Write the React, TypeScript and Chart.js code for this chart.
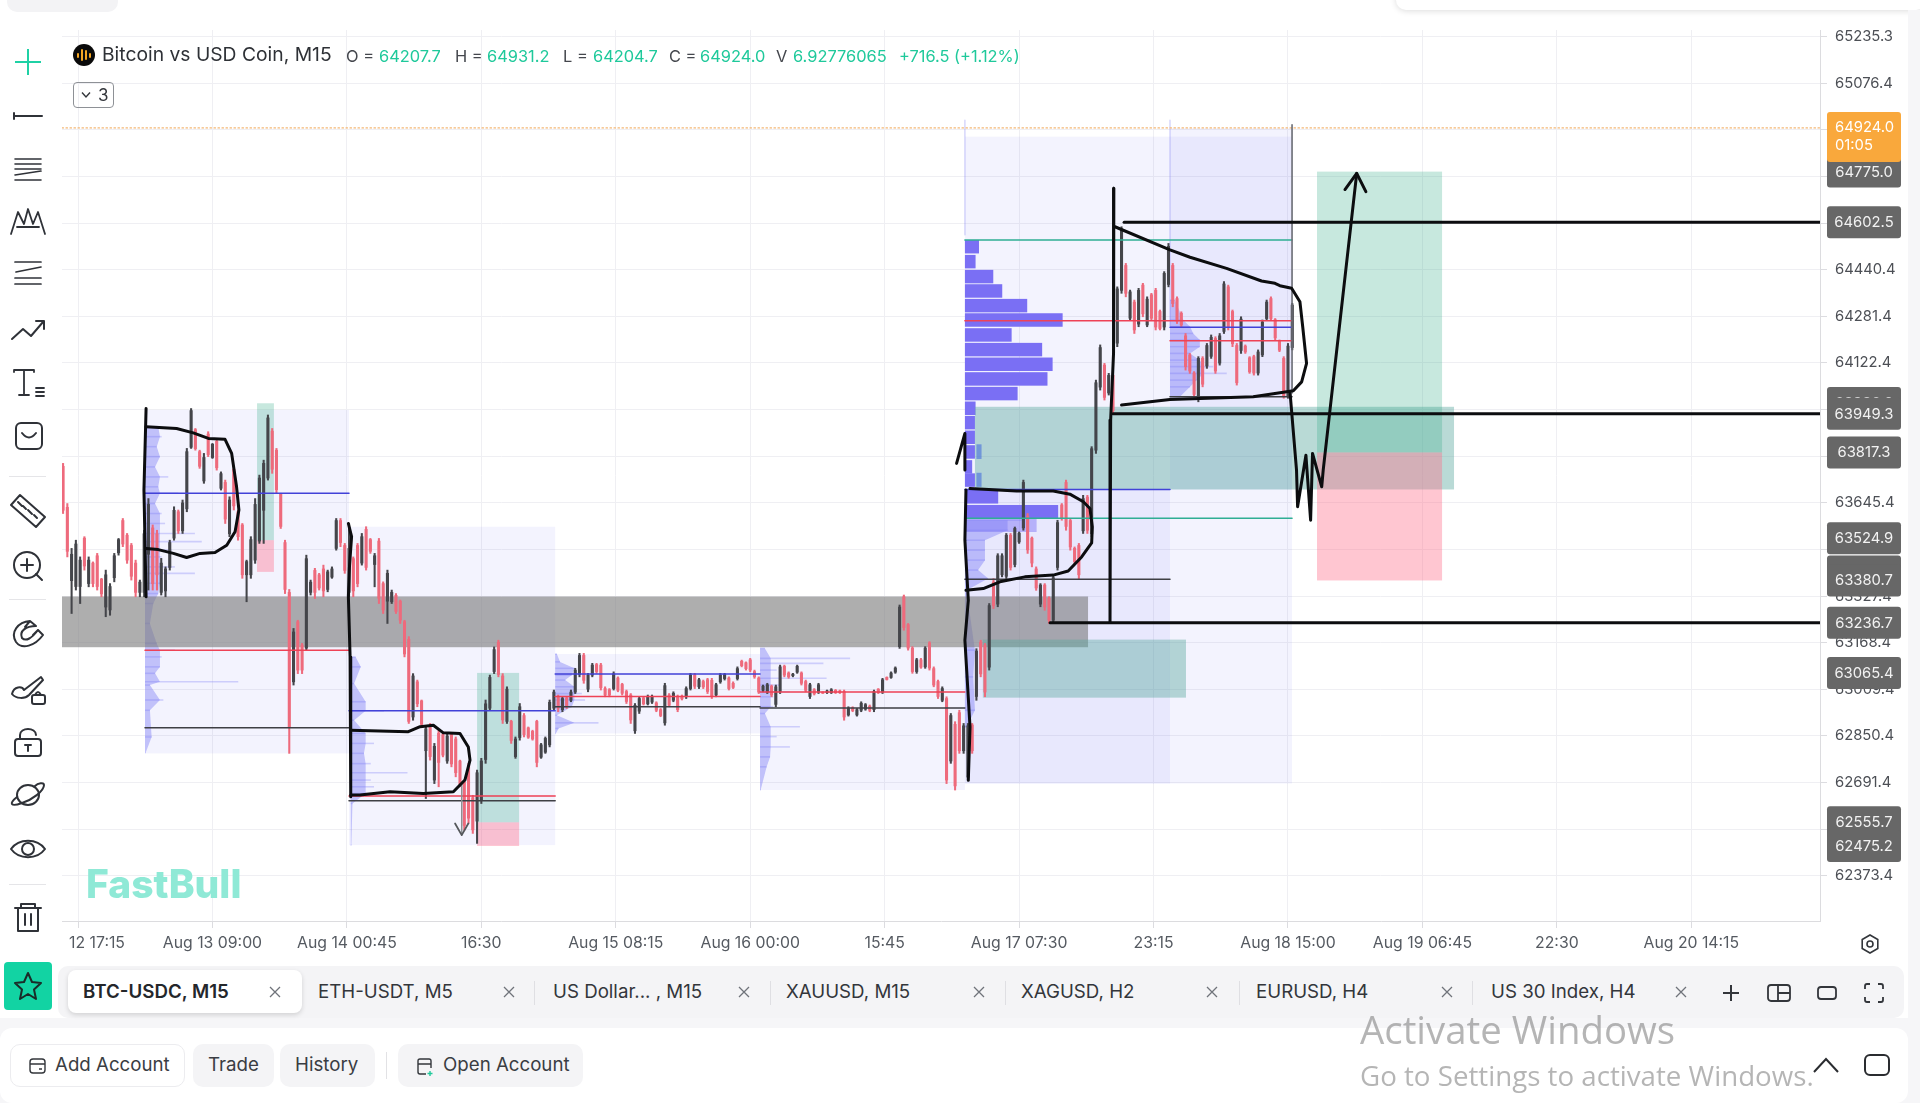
import React, { useEffect, useRef } from "react";
import { Chart, registerables } from "chart.js";
Chart.register(...registerables);

const xTickValues = [0, 63, 126, 189, 252, 315, 378, 441, 504, 567, 630, 693, 756];
const xTickLabels = ["", "Aug 13 09:00", "Aug 14 00:45", "16:30", "Aug 15 08:15", "Aug 16 00:00", "15:45", "Aug 17 07:30", "23:15", "Aug 18 15:00", "Aug 19 06:45", "22:30", "Aug 20 14:15"];
const yTickValues = [65235.3, 65076.4, 64917.4, 64758.4, 64599.4, 64440.4, 64281.4, 64122.4, 63963.4, 63804.4, 63645.4, 63486.4, 63327.4, 63168.4, 63009.4, 62850.4, 62691.4, 62532.4, 62373.4];
const X_MIN = -7.5, X_MAX = 816.3, Y_MIN = 62219.3, Y_MAX = 65258;

const highs = [
63780,63643,63490,63518,63461,63530,63461,63444,63473,63388,
63416,63370,63473,63524,63592,63541,63507,63450,63382,63552,
63660,63570,63552,63456,63427,63518,63632,63621,63655,63831,
63967,63899,63825,63814,63888,63848,63859,63751,63723,63666,
63768,63621,63575,63450,63530,63660,63740,63791,63945,63899,
63831,63678,63518,63350,63217,63245,63166,63467,63382,63422,
63405,63433,63416,63427,63592,63592,63507,63575,63461,63507,
63541,63564,63524,63473,63524,63376,63416,63348,63336,63314,
63245,63189,63063,63041,62973,62881,62893,62825,62870,62859,
62859,62859,62847,62768,62700,62757,62648,62734,62774,62973,
63058,63154,63177,63063,63018,62904,62847,62961,62927,62881,
62870,62904,62825,62847,62973,63007,
62990,62984,62984,63007,63081,63132,63132,63064,63098,63098,
63098,63018,63012,63069,63052,63030,63007,62995,62961,62984,
62984,62990,62990,62967,62944,63030,62995,63001,62990,62990,
63018,63064,63064,63047,63041,63047,63047,63030,63064,63064,
63052,63035,63086,63109,63103,63115,63075,63052,63024,63030,
63024,63024,63092,63092,63069,63064,63092,63069,63041,63030,
63012,63030,63001,63007,63012,63009,63007,63007,62950,62950,
62944,62967,62961,62956,63007,63012,63047,63052,63069,63086,
63297,63331,63234,63155,63115,63115,63155,63172,63086,63041,
63018,62984,62927,62899,62938,62893,62893,62893,
63148,63177,63166,63302,63387,63472,63472,63541,63541,63563,
63546,63723,63609,63529,63427,63370,63370,63325,63399,63586,
63643,63723,63592,63495,63507,63671,63671,63837,
64064,64184,64121,64087,64087,64382,64587,64462,64371,64337,
64377,64394,64348,64360,64377,64303,64434,64530,64462,64348,
64297,64223,64155,64093,64144,64144,64189,64218,64212,64223,
64400,64388,64303,64189,64280,64184,64144,64149,64167,64269,
64337,64348,64274,64201,64144,64189,64326];
const lows = [
63609,63461,63268,63348,63302,63416,63359,63359,63348,63325,
63257,63262,63376,63467,63496,63439,63382,63325,63325,63325,
63348,63348,63348,63331,63325,63416,63518,63541,63541,63615,
63831,63825,63763,63712,63803,63797,63757,63689,63575,63530,
63621,63518,63388,63308,63388,63439,63507,63507,63723,63746,
63678,63558,63336,62791,63024,63063,63063,63143,63331,63319,
63348,63325,63342,63388,63484,63496,63405,63325,63325,63359,
63433,63416,63473,63359,63302,63268,63234,63302,63268,63234,
63120,62893,62904,62950,62881,62637,62768,62688,62677,62779,
62757,62745,62711,62677,62529,62552,62518,62484,62620,62757,
62938,63063,63052,62893,62893,62825,62774,62836,62847,62842,
62836,62745,62774,62791,62813,62938,
62933,62933,62944,62967,62995,63052,63030,63001,63052,63064,
63007,62984,62984,63007,63001,62990,62961,62893,62859,62927,
62956,62956,62961,62933,62916,62887,62950,62967,62933,62973,
62978,63007,63012,63012,63012,62995,62978,62984,63030,63041,
63007,63012,63041,63086,63075,63069,63047,62995,63001,62995,
62984,62950,62995,63052,63047,63052,63064,63024,63001,62978,
62990,62995,62995,62995,62995,62995,62995,62904,62918,62933,
62918,62933,62938,62933,62933,62995,62995,63041,63047,63064,
63149,63211,63143,63064,63064,63081,63081,63075,63018,62978,
62967,62688,62757,62666,62791,62791,62700,62791,
62972,63052,62984,63075,63285,63291,63393,63387,63416,63427,
63507,63552,63473,63427,63347,63291,63279,63234,63234,63416,
63586,63552,63484,63438,63387,63541,63541,63530,
63814,64030,63996,64013,63950,64178,64360,64348,64269,64223,
64246,64280,64246,64269,64235,64235,64235,64382,64314,64257,
64246,64098,64087,64007,63990,64041,64104,64138,64087,64115,
64223,64235,64178,64047,64155,64155,64087,64081,64081,64144,
64269,64269,64201,64161,64002,64002,64167];
const opens = [
63770,63630,63380,63360,63360,63525,63370,63440,63465,63385,
63290,63280,63390,63475,63585,63535,63500,63440,63340,63340,
63470,63560,63540,63340,63345,63425,63525,63615,63550,63625,
63835,63895,63820,63720,63880,63800,63855,63695,63715,63540,
63760,63615,63570,63400,63400,63450,63515,63620,63730,63890,
63825,63675,63510,63340,63035,63240,63160,63150,63340,63415,
63400,63420,63350,63392,63490,63585,63500,63340,63455,63500,
63440,63555,63520,63435,63515,63370,63310,63308,63330,63310,
63240,63180,62915,63035,62970,62800,62885,62700,62860,62855,
62765,62855,62840,62765,62695,62750,62640,62560,62630,62770,
62945,63070,63170,63055,62900,62900,62780,62845,62920,62878,
62866,62900,62778,62795,62820,62945,
62985,62940,62980,62972,63000,63060,63125,63010,63058,63094,
63092,63012,63008,63012,63048,63026,63002,62990,62868,62935,
62980,62960,62966,62963,62940,62895,62990,62972,62985,62986,
62984,63012,63058,63018,63036,63042,63040,62990,63035,63046,
63048,63030,63046,63105,63100,63110,63070,63048,63006,63000,
63020,62958,63002,63088,63065,63056,63068,63065,63036,62985,
63008,63000,63000,62998,62998,63006,63004,63002,62922,62946,
62922,62938,62942,62952,62940,63010,63000,63050,63050,63068,
63155,63325,63230,63150,63070,63110,63086,63168,63080,63036,
62972,62978,62765,62890,62930,62800,62710,62888,
62985,63170,63160,63085,63375,63300,63400,63395,63535,63435,
63512,63560,63600,63525,63420,63300,63365,63320,63245,63425,
63638,63715,63585,63490,63500,63550,63665,63540,
63825,64040,64115,64020,64080,64190,64370,64455,64275,64330,
64255,64388,64252,64355,64370,64298,64245,64390,64455,64342,
64292,64215,64150,64088,64000,64138,64112,64145,64206,64122,
64230,64382,64298,64182,64165,64180,64140,64144,64088,64150,
64274,64342,64270,64196,64138,64010,64175];
const closes = [
63620,63480,63470,63505,63450,63430,63450,63370,63360,63335,
63400,63360,63465,63520,63505,63450,63395,63340,63375,63540,
63640,63370,63400,63440,63420,63510,63620,63550,63645,63820,
63960,63830,63770,63800,63810,63845,63765,63745,63590,63655,
63635,63530,63400,63445,63520,63640,63730,63780,63935,63760,
63690,63565,63350,62880,63205,63075,63075,63455,63375,63340,
63355,63345,63410,63420,63585,63510,63415,63490,63345,63370,
63530,63425,63480,63465,63320,63280,63405,63340,63275,63245,
63130,62900,63055,62960,62890,62875,62780,62815,62760,62785,
62850,62755,62725,62685,62545,62570,62530,62725,62765,62960,
63050,63145,63060,62905,63010,62835,62840,62950,62855,62846,
62840,62760,62820,62842,62965,63000,
62945,62978,62950,63000,63075,63125,63040,63058,63092,63070,
63015,62990,62990,63062,63006,62996,62968,62905,62955,62978,
62960,62985,62985,62938,62920,63022,62955,62996,62940,62977,
63012,63058,63020,63042,63018,63002,62985,63025,63058,63060,
63012,63016,63080,63090,63080,63075,63052,63000,63020,63025,
62990,63018,63086,63058,63052,63061,63088,63030,63006,63025,
62994,63025,62996,63004,63008,62998,62998,62915,62945,62937,
62940,62962,62957,62938,63002,62998,63042,63043,63065,63082,
63290,63220,63150,63070,63110,63085,63150,63082,63024,62985,
63012,62700,62920,62680,62800,62885,62885,62800,
63140,63062,63000,63295,63295,63465,63465,63535,63425,63558,
63542,63715,63485,63440,63355,63365,63290,63245,63390,63578,
63592,63565,63495,63445,63400,63660,63552,63830,
64055,64175,64005,64080,63960,64375,64575,64360,64365,64235,
64370,64290,64340,64275,64245,64240,64428,64520,64325,64265,
64252,64110,64095,64015,64138,64050,64182,64210,64095,64215,
64392,64245,64188,64055,64272,64160,64092,64088,64160,64262,
64330,64274,64208,64166,64010,64180,64320];

const lavenderBoxes = [
  [31.4, 127, 63962, 62791], [127, 223.6, 63564, 62478], [223.6, 319.6, 63130, 62859], [319.6, 415.6, 63155, 62666],
  [415.6, 568.9, 64894, 62688], [511.7, 568.9, 64923, 63691], [415.6, 511.7, 63691, 62688],
];
const profileS1 = { base: 31.4, prices: [63905,63871,63837,63803,63768,63734,63700,63678,63643,63609,63575,63541,63513,63484,63461,63427,63405,63371,63336,63302,63234,63166,63143,63120,63086,63064,63035,63024,62973,62938,62847,62793], widths: [6.2,7.8,5.5,7,4.7,10.9,6.2,15.6,4.7,7.8,9.4,23.4,26.6,12.5,7.8,14,23.4,7.8,6.2,3.9,2.3,5.5,14,7.8,7,4.7,43.7,2.3,8.6,2.3,3.1,0.3] };
const profileS2 = { base: 127.8, prices: [63120,63086,63029,62967,62936,62904,62859,62825,62791,62756,62725,62700,62677,62654,62620,62478], widths: [2.3,4.7,1.6,7,15.6,1.6,7,10.9,6.2,9.4,26.6,9.4,10.9,7.8,0.8,0.3] };
const profileS3 = { base: 223.6, prices: [63130,63103,63081,63058,63041,63018,62995,62973,62950,62921,62895,62876,62859], widths: [0.8,2.3,9.4,7.8,4.7,9.4,12.5,14,7.8,0.8,20.3,1.6,0.3] };
const profileS4 = { base: 319.6, prices: [63149,63115,63098,63075,63047,63024,63001,62984,62950,62927,62882,62848,62813,62779,62745,62666], widths: [2.3,42.2,29.7,7.8,31.2,9.4,14,6.2,6.2,2.3,18.7,7.8,14,4.7,3.1,0.3] };
const profileS5 = { base: 415.6, prices: [63586,63552,63518,63484,63450,63416,63387,63347,63143,63052,62938,62881], widths: [26.6,20.3,9.4,9.4,9.4,6.2,10.9,0.8,4.7,3.9,4.7,0.8] };
const profileS6 = { base: 511.7, prices: [64337,64269,64246,64223,64201,64178,64155,64132,64110,64087,64064,64041,64007], widths: [2.3,6.2,9.4,10.9,14,14,9.4,14,20.3,26.6,12.5,9.4,4.7] };
const volumeProfiles = [profileS1, profileS2, profileS3, profileS4, profileS5, profileS6];
const profileBodyCaps = [7, 7, 9, 5, 20, 16];

const blockBase = 415.6;
const blockPrices = [64519,64468,64417,64368,64318,64269,64218,64168,64118,64068,64018,63968,63919,63869,63819,63768,63723,63666,63615,63569];
const blockWidths = [6.6,5,13.3,17.5,29.2,45.8,21.9,36.2,41.1,38.7,24.7,5,4.7,4.7,4.7,3.4,4.7,15.6,43.7,33.6];
const blueBits = [[421, 423.4, 63845, 63795], [421, 423.4, 63748, 63700]];

const grayZone = [X_MIN, 473.3, 63326, 63153];
const tealZones = [[420.3, 644.8, 63973, 63691], [424, 519.2, 63179, 62981]];
const positionBoxes = [
  [83.9, 91.8, 63985, 63518, 63410],
  [187, 206.7, 63065.4, 62555.7, 62475.2],
  [580.6, 639.2, 64775, 63817.3, 63380.7],
];

const blueLevels = [[31.4,127,63678],[127,223.6,62936],[223.6,319.6,63062],[511.7,568.9,64244],[415.6,511.7,63691]];
const redLevels = [[31.4,127,63143],[127,223.6,62646],[223.6,319.6,62985],[319.6,415.6,63000],[415.6,568.9,64266],[511.7,568.9,64198]];
const darkLevels = [[31.4,127,62878],[127,223.6,62629],[223.6,319.6,62950],[319.6,415.6,62946],[511.7,568.9,64007],[415.6,511.7,63385]];
const tealLevels = [[415.6,568.9,64542],[415.6,568.9,63593]];
const heavyLevels = [[490.2,816.3,64602.5],[485,816.3,63949.3],[455.5,816.3,63236.7]];
const lastPrice = 64924.0;

const handStrokes = [
  [[31.9,63967],[30.9,63689],[31.9,63325]],
  [[31.9,63905],[46.2,63899],[54,63884],[61.1,63865],[68.9,63862],[72,63814],[74.3,63700],[75.4,63621],[73.6,63547],[69.7,63501],[64.2,63476],[57.2,63473],[50.9,63459],[44.7,63473],[37.6,63486],[31.9,63490]],
  [[126.7,63575],[128.2,63530],[127.2,63427],[126.7,63325],[127.5,63120],[127.8,62643]],
  [[127.8,62870],[154.8,62865],[160.3,62882],[166.5,62887],[171.2,62861],[179,62859],[182.9,62813],[183.7,62768],[181.3,62700],[175.9,62660],[161.8,62654],[146.2,62660],[132.1,62649],[127.8,62649]],
  [[417.2,62699],[418,62881],[415.6,63177],[417.2,63313],[415.6,63518],[416.1,63689]],
  [[411.7,63780],[415.6,63882],[415.6,63757]],
  [[416.1,63347],[424.2,63353],[432,63376],[443.7,63393],[457,63399],[464,63413],[470.3,63461],[475,63509],[475.3,63563],[474.2,63626],[471.1,63649],[464.8,63675],[457,63686],[439.8,63686],[418,63694]],
  [[485.4,64718],[485.4,64382],[485.1,64155],[483.9,63928],[483.6,63757],[483.6,63239]],
  [[485.9,64587],[511.7,64508],[521.1,64483],[538.2,64445],[554.6,64402],[560.9,64394],[563.2,64386],[568.7,64377],[572.6,64331],[573.9,64246],[575.7,64121],[573.4,64058],[569.5,64028],[550.7,64007],[511.7,63998],[489,63979]],
  [[568,64019],[571,63757],[571.5,63632],[575.4,63808],[577.6,63586],[578.5,63814],[582.8,63700],[583.5,63757],[599.2,64769]],
  [[593.7,64714],[599.2,64769],[603.5,64707]],
];
const grayArrow = [[176.7,62552],[179.8,62512],[182.9,62552]];
const grayArrowStem = [[179.8,62690],[179.8,62512]];
const rightEdgeTick = [[568.9,64935],[568.9,64020]];
const faintVerticals = [[[415.6,64950],[415.6,64560]], [[511.7,64950],[511.7,64250]]];

const hiddenBadges = [63986.0, 63411.0];
const badges = [64775.0, 64602.5, 63949.3, 63817.3, 63524.9, 63380.7, 63236.7, 63065.4, 62555.7, 62475.2];

const FONT = "Inter, 'Open Sans', sans-serif";
const INK = "#2f3238";

const overlayPlugin = {
  id: "overlays",
  beforeDatasetsDraw(chart: any) {
    const { ctx, scales: { x, y } } = chart;
    const rect = (x0: number, x1: number, p0: number, p1: number, color: string) => {
      ctx.fillStyle = color;
      const a = x.getPixelForValue(x0), b = x.getPixelForValue(x1);
      const c = y.getPixelForValue(p0), d = y.getPixelForValue(p1);
      ctx.fillRect(a, c, b - a, d - c);
    };
    ctx.save();
    lavenderBoxes.forEach((b) => rect(b[0], b[1], b[2], b[3], "rgba(92,92,240,0.075)"));
    blockPrices.forEach((p, i) => rect(blockBase, blockBase + blockWidths[i], p + 23, p - 23, i >= 19 ? "rgba(112,100,245,0.42)" : "#7a6ff4"));
    volumeProfiles.forEach((pr, n) => {
      const cap = profileBodyCaps[n];
      ctx.beginPath();
      ctx.moveTo(x.getPixelForValue(pr.base), y.getPixelForValue(pr.prices[0]));
      pr.prices.forEach((p, i) => ctx.lineTo(x.getPixelForValue(pr.base + Math.min(pr.widths[i], cap)), y.getPixelForValue(p)));
      ctx.lineTo(x.getPixelForValue(pr.base), y.getPixelForValue(pr.prices[pr.prices.length - 1]));
      ctx.closePath();
      ctx.fillStyle = "rgba(118,118,246,0.4)";
      ctx.fill();
      ctx.strokeStyle = "rgba(118,118,246,0.3)";
      ctx.lineWidth = 1.6;
      pr.prices.forEach((p, i) => {
        const py = y.getPixelForValue(p);
        ctx.beginPath();
        ctx.moveTo(x.getPixelForValue(pr.base), py);
        ctx.lineTo(x.getPixelForValue(pr.base + pr.widths[i]), py);
        ctx.stroke();
      });
    });
    rect(grayZone[0], grayZone[1], grayZone[2], grayZone[3], "rgba(125,125,125,0.62)");
    tealZones.forEach((t) => rect(t[0], t[1], t[2], t[3], "rgba(88,168,158,0.42)"));
    blueBits.forEach((b) => rect(b[0], b[1], b[2], b[3], "rgba(70,110,220,0.6)"));
    positionBoxes.forEach((b) => {
      rect(b[0], b[1], b[2], b[3], "rgba(38,166,128,0.26)");
      rect(b[0], b[1], b[3], b[4], "rgba(255,105,135,0.38)");
    });
    ctx.restore();
  },
  afterDraw(chart: any) {
    const { ctx, scales: { x, y } } = chart;
    ctx.save();
    ctx.font = `15.8px ${FONT}`;
    ctx.textAlign = "center";
    ctx.textBaseline = "middle";
    ctx.fillStyle = "#555a61";
    ctx.fillText("12 17:15", x.getPixelForValue(0) + 19, 943);
    ctx.font = `14.8px ${FONT}`;
    const drawBadge = (v: number) => {
      const cy = y.getPixelForValue(v);
      ctx.fillStyle = "#676767";
      ctx.beginPath();
      ctx.roundRect(1827, cy - 16, 74, 32, 3);
      ctx.fill();
      ctx.fillStyle = "#f2f2f2";
      ctx.fillText(v.toFixed(1), 1864, cy + 0.5);
    };
    hiddenBadges.forEach(drawBadge);
    badges.forEach(drawBadge);
    const cy = y.getPixelForValue(lastPrice);
    ctx.fillStyle = "#f9a83c";
    ctx.beginPath();
    ctx.roundRect(1827, cy - 16, 74, 50, 3);
    ctx.fill();
    ctx.fillStyle = "#ffffff";
    ctx.textAlign = "left";
    ctx.fillText(lastPrice.toFixed(1), 1835, cy - 0.5);
    ctx.fillText("01:05", 1835, cy + 18);
    ctx.restore();
  },
};

function line(points: number[][], color: string, width: number, order = 0, dash?: number[]) {
  return {
    type: "line", data: points.map((p) => ({ x: p[0], y: p[1] })), borderColor: color, borderWidth: width, borderDash: dash,
    pointRadius: 0, tension: 0, order, borderCapStyle: "round", borderJoinStyle: "round",
  };
}

function level(l: number[], color: string, width: number, order = 1) {
  return line([[l[0], l[2]], [l[1], l[2]]], color, width, order);
}

function PriceChart() {
  const ref = useRef<HTMLCanvasElement>(null);
  useEffect(() => {
    const candleX = highs.map((_, k) => -7 + 2 * k);
    const colors = closes.map((c, k) => (c >= opens[k] ? "#44454a" : "#ee6a7c"));
    const chart = new Chart(ref.current as any, {
      type: "bar",
      data: {
        datasets: [
          ...handStrokes.map((s) => line(s, "#0c0d0f", 3)),
          line(grayArrow, "#55585c", 1.8),
          line(grayArrowStem, "#8d8f93", 1),
          line(rightEdgeTick, "#6a6c74", 1.6, 1),
          ...faintVerticals.map((s) => line(s, "rgba(120,120,240,0.28)", 1.6, 4)),
          ...heavyLevels.map((l) => level(l, "#0c0d0f", 3, 0)),
          ...blueLevels.map((l) => level(l, "#4242d8", 1.5)),
          ...redLevels.map((l) => level(l, "#ee4256", 1.5)),
          ...darkLevels.map((l) => level(l, "#3e3f44", 1.5)),
          ...tealLevels.map((l) => level(l, "#2fae94", 1.5)),
          line([[X_MIN, lastPrice], [X_MAX, lastPrice]], "#f4b877", 1.2, 1, [1.5, 2.5]),
          {
            type: "bar", order: 2, grouped: false, barThickness: 2.4,
            data: candleX.map((xv, k) => ({ x: xv, y: [Math.min(opens[k], closes[k]), Math.max(opens[k], closes[k])] })),
            backgroundColor: colors,
          },
          {
            type: "bar", order: 3, grouped: false, barThickness: 1.4,
            data: candleX.map((xv, k) => ({ x: xv, y: [lows[k], highs[k]] })),
            backgroundColor: colors,
          },
        ] as any,
      },
      options: {
        animation: false,
        responsive: false,
        devicePixelRatio: 1,
        layout: { padding: { left: 62, top: 30, right: 0, bottom: 0 } },
        plugins: { legend: { display: false }, tooltip: { enabled: false } },
        scales: {
          x: {
            type: "linear", min: X_MIN, max: X_MAX, offset: false, stacked: false,
            grid: { offset: false, color: "#efeff3", lineWidth: 1, tickLength: 7, tickColor: "#dcdce0" },
            border: { color: "#dcdcdf" },
            afterBuildTicks: (s: any) => { s.ticks = xTickValues.map((value) => ({ value })); },
            afterFit: (s: any) => { s.height = 182; },
            ticks: {
              autoSkip: false, maxRotation: 0, padding: 6, color: "#555a61", font: { family: FONT, size: 15.8 },
              callback: (v: any) => xTickLabels[xTickValues.indexOf(v)] ?? "",
            },
          },
          y: {
            type: "linear", position: "right", min: Y_MIN, max: Y_MAX, beginAtZero: false,
            grid: { color: "#efeff3", lineWidth: 1, tickLength: 7, tickColor: "#dcdce0" },
            border: { color: "#dcdcdf" },
            afterBuildTicks: (s: any) => { s.ticks = yTickValues.map((value) => ({ value })); },
            afterFit: (s: any) => { s.width = 100; },
            ticks: { autoSkip: false, padding: 8, color: "#4c4f55", font: { family: FONT, size: 14.8 }, callback: (v: any) => Number(v).toFixed(1) },
          },
        },
      } as any,
      plugins: [overlayPlugin as any],
    });
    return () => chart.destroy();
  }, []);
  return <canvas ref={ref} width={1920} height={1103} style={{ position: "absolute", left: 0, top: 0, width: 1920, height: 1103 }} />;
}

const abs = (left: number, top: number, extra: any = {}) => ({ position: "absolute", left, top, ...extra } as any);

function Txt({ x, y, s, color = "#3a3d43", weight = 400, children, font }: any) {
  return <div style={abs(x, y, { transform: "translateY(-50%)", fontSize: s, color, fontWeight: weight, fontFamily: font ?? FONT, whiteSpace: "nowrap", lineHeight: 1 })}>{children}</div>;
}

function Ic({ y, children, x = 28 }: any) {
  return (
    <svg width="40" height="36" viewBox="0 0 40 36" fill="none" stroke={INK} strokeWidth="2" strokeLinecap="round" strokeLinejoin="round" style={abs(x - 20, y - 18)}>
      {children}
    </svg>
  );
}

const tabNames = [
  { t: "ETH-USDT, M5", x: 318, c: 509 },
  { t: "US Dollar... , M15", x: 553, c: 744 },
  { t: "XAUUSD, M15", x: 786, c: 979 },
  { t: "XAGUSD, H2", x: 1021, c: 1212 },
  { t: "EURUSD, H4", x: 1256, c: 1447 },
  { t: "US 30 Index, H4", x: 1491, c: 1681 },
];
const tabDividers = [534, 770, 1005, 1239, 1472];

function Close({ x }: any) {
  return (
    <svg width="14" height="14" viewBox="0 0 14 14" stroke="#6f737a" strokeWidth="1.3" style={abs(x - 7, 985)}>
      <path d="M2 2 L12 12 M12 2 L2 12" />
    </svg>
  );
}

function Chrome() {
  const green = "#1fc99b";
  return (
    <>
      <div style={abs(7, -10, { width: 111, height: 22, background: "#f3f3f5", borderRadius: 10 })} />
      <div style={abs(1396, -12, { width: 530, height: 22, background: "#fff", borderRadius: 10, boxShadow: "0 1px 6px rgba(0,0,0,0.14)" })} />
      <div style={abs(84 - 11, 55 - 11, { width: 22, height: 22, borderRadius: 11, background: "#0a0a0a" })} />
      <svg width="22" height="22" viewBox="0 0 22 22" style={abs(73, 44)} stroke="#f5a623" strokeWidth="2" strokeLinecap="round">
        <path d="M5 10 V13 M9 6 V16 M13 7 V15 M17 10 V13" />
      </svg>
      <Txt x={102} y={55} s={19.3} color="#2e3136">Bitcoin vs USD Coin, M15</Txt>
      <Txt x={346} y={56} s={16.4} color="#44474d">O =</Txt>
      <Txt x={379} y={56} s={16.4} color={green}>64207.7</Txt>
      <Txt x={455} y={56} s={16.4} color="#44474d">H =</Txt>
      <Txt x={487} y={56} s={16.4} color={green}>64931.2</Txt>
      <Txt x={563} y={56} s={16.4} color="#44474d">L =</Txt>
      <Txt x={593} y={56} s={16.4} color={green}>64204.7</Txt>
      <Txt x={669} y={56} s={16.4} color="#44474d">C =</Txt>
      <Txt x={700} y={56} s={16.4} color={green}>64924.0</Txt>
      <Txt x={776} y={56} s={16.4} color="#44474d">V</Txt>
      <Txt x={793} y={56} s={16.4} color={green}>6.92776065</Txt>
      <Txt x={899} y={56} s={16.4} color={green}>+716.5 (+1.12%)</Txt>
      <div style={abs(73, 82, { width: 41, height: 26, boxSizing: "border-box", border: "1px solid #8e9196", borderRadius: 4 })} />
      <svg width="12" height="8" viewBox="0 0 12 8" stroke="#33363b" strokeWidth="1.4" fill="none" style={abs(80, 91)}><path d="M2 1.5 L6 6 L10 1.5" /></svg>
      <Txt x={98} y={95} s={17} color="#33363b">3</Txt>

      <Txt x={86} y={883} s={39} color="#8fe9d6" weight={800}>FastBull</Txt>

      {/* toolbar */}
      <svg width="40" height="36" viewBox="0 0 40 36" stroke="#1fd1a5" strokeWidth="2" style={abs(8, 44)}><path d="M20 5 V31 M7 18 H33" /></svg>
      <Ic y={118}><path d="M6 13 V19 M6 16 H34" /></Ic>
      <Ic y={172}><path d="M7 5 H33 M7 10 H33 M7 15 H33 M7 21 L33 17 M7 26 H33" strokeWidth="1.6" /></Ic>
      <Ic y={222}><path d="M3 30 L10 8 L16 20 L20 5 L25 20 L30 8 L37 30 M9 23 H31" strokeWidth="1.8" /></Ic>
      <Ic y={274}><path d="M7 6 H33 M8 16 L33 11 M7 22 H33 M7 28 H33" strokeWidth="1.7" /></Ic>
      <Ic y={329}><path d="M4 28 L15 18 L23 25 L35 11 M28 10 H36 V18" /></Ic>
      <Ic y={383}><path d="M6 5 H26 M6 5 V7 M26 5 V7 M16 5 V30 M11 30 H21 M28 23 H36 M28 27 H36 M28 31 H36" strokeWidth="1.8" /></Ic>
      <Ic y={436}><rect x="8" y="5" width="26" height="26" rx="5" /><path d="M14 15 Q21 24 28 15" /></Ic>
      <div style={abs(9, 476, { width: 37, height: 1, background: "#e5e5e8" })} />
      <Ic y={511}><path d="M3 12 L12 2 L37 24 L28 34 Z M10 9 L14 13 M15 13 L18 16 M20 17 L24 21 M26 22 L29 25" /></Ic>
      <Ic y={565}><circle cx="19" cy="18" r="13" /><path d="M19 12 V24 M13 18 H25 M28 27 L34 33" /></Ic>
      <div style={abs(9, 599, { width: 37, height: 1, background: "#e5e5e8" })} />
      <Ic y={634}><path d="M8 26 C2 16 10 6 22 5 L28 10 C18 10 11 15 14 22 C18 26 24 22 30 14 L35 19 C27 30 14 34 8 26 Z M22 5 L17 11 M30 14 L25 19" /></Ic>
      <Ic y={689}><path d="M4 23 C6 15 14 15 16 19 L33 6 L35 9 L21 24 C17 28 8 28 4 23 Z" /><rect x="24" y="24" width="13" height="9" rx="2" /><path d="M27 24 Q30 18 33 24" /></Ic>
      <Ic y={742}><rect x="7" y="15" width="26" height="17" rx="3" /><path d="M12 15 V11 C12 3 28 3 28 11 M17 21 H23 M20 21 V27" /></Ic>
      <Ic y={795}><ellipse cx="20" cy="18" rx="11" ry="10" /><path d="M9 20 C0 27 3 30 14 26 C24 23 36 14 36 8 C36 5 30 6 27 9" /></Ic>
      <Ic y={849}><path d="M3 18 C11 7 29 7 37 18 C29 29 11 29 3 18 Z" /><circle cx="20" cy="18" r="6" /></Ic>
      <div style={abs(9, 884, { width: 37, height: 1, background: "#e5e5e8" })} />
      <Ic y={918}><path d="M7 8 H33 M13 8 V4 H27 V8 M10 8 V31 H30 V8 M17 14 V25 M23 14 V25" /></Ic>

      <svg width="22" height="22" viewBox="0 0 22 22" fill="none" stroke="#33363b" strokeWidth="1.6" style={abs(1859, 933)}>
        <path d="M11 2 L18.8 6.5 V15.5 L11 20 L3.2 15.5 V6.5 Z" /><circle cx="11" cy="11" r="3" />
      </svg>

      {/* right gutter */}
      <div style={abs(1908, 10, { width: 12, height: 1093, background: "#f6f6f8" })} />

      {/* tab bar */}
      <div style={abs(0, 1018, { width: 1920, height: 85, background: "#f6f6f8" })} />
      <div style={abs(4, 962, { width: 48, height: 48, background: "#12d3a3", borderRadius: 4 })} />
      <svg width="32" height="32" viewBox="0 0 32 32" fill="none" stroke="#1a2b28" strokeWidth="2" strokeLinejoin="round" style={abs(12, 970)}>
        <path d="M16 3 L20 12 L29 13 L22 19.5 L24 29 L16 24 L8 29 L10 19.5 L3 13 L12 12 Z" />
      </svg>
      <div style={abs(58, 966, { width: 1846, height: 52, background: "#f4f4f6", borderRadius: 10 })} />
      <div style={abs(68, 970, { width: 234, height: 43, background: "#fff", borderRadius: 8, boxShadow: "0 2px 5px rgba(0,0,0,0.14)" })} />
      <Txt x={83} y={992} s={18.7} color="#24272b" weight={600}>BTC-USDC, M15</Txt>
      <Close x={275} />
      {tabNames.map((t) => (
        <React.Fragment key={t.t}>
          <Txt x={t.x} y={992} s={18.7} color="#33363b">{t.t}</Txt>
          <Close x={t.c} />
        </React.Fragment>
      ))}
      {tabDividers.map((d) => <div key={d} style={abs(d, 981, { width: 1, height: 24, background: "#dfdfe3" })} />)}
      <svg width="22" height="22" viewBox="0 0 22 22" stroke="#33363b" strokeWidth="2" style={abs(1720, 982)}><path d="M11 3 V19 M3 11 H19" /></svg>
      <svg width="26" height="22" viewBox="0 0 26 22" fill="none" stroke="#33363b" strokeWidth="1.8" style={abs(1766, 982)}><rect x="2" y="3" width="22" height="16" rx="3" /><path d="M12 3 V19 M12 11 H24" /></svg>
      <svg width="24" height="22" viewBox="0 0 24 22" fill="none" stroke="#33363b" strokeWidth="1.8" style={abs(1815, 982)}><rect x="3" y="5" width="18" height="12" rx="3" /></svg>
      <svg width="24" height="24" viewBox="0 0 24 24" fill="none" stroke="#33363b" strokeWidth="1.8" style={abs(1862, 981)}><path d="M3 8 V5 Q3 3 5 3 H8 M16 3 H19 Q21 3 21 5 V8 M21 16 V19 Q21 21 19 21 H16 M8 21 H5 Q3 21 3 19 V16" /></svg>

      {/* account bar */}
      <div style={abs(0, 1028, { width: 1908, height: 75, background: "#fff", borderRadius: 12 })} />
      <div style={abs(10, 1044, { width: 175, height: 43, boxSizing: "border-box", border: "1px solid #ececef", borderRadius: 10, background: "#fff" })} />
      <svg width="20" height="20" viewBox="0 0 20 20" fill="none" stroke="#33363b" strokeWidth="1.4" style={abs(28, 1056)}><rect x="2" y="3" width="15" height="14" rx="3" /><path d="M2 8 H17 M11 13 H14" /></svg>
      <Txt x={55} y={1065} s={18.7}>Add Account</Txt>
      <div style={abs(193, 1044, { width: 81, height: 43, borderRadius: 10, background: "#f4f4f6" })} />
      <Txt x={208} y={1065} s={18.7}>Trade</Txt>
      <div style={abs(280, 1044, { width: 95, height: 43, borderRadius: 10, background: "#f4f4f6" })} />
      <Txt x={295} y={1065} s={18.7}>History</Txt>
      <div style={abs(386, 1052, { width: 1, height: 27, background: "#e2e2e5" })} />
      <div style={abs(398, 1044, { width: 185, height: 43, borderRadius: 10, background: "#f4f4f6" })} />
      <svg width="22" height="22" viewBox="0 0 22 22" fill="none" stroke="#33363b" strokeWidth="1.4" style={abs(415, 1056)}><path d="M16 12 V5 Q16 3 14 3 H5 Q3 3 3 5 V16 Q3 18 5 18 H11 M3 8 H16" /><path d="M15 15 V20 M12.5 17.5 H17.5" stroke="#1fc99b" /></svg>
      <Txt x={443} y={1065} s={18.7}>Open Account</Txt>
      <svg width="30" height="20" viewBox="0 0 30 20" fill="none" stroke="#2a2c30" strokeWidth="2" style={abs(1811, 1055)}><path d="M3 17 L15 4 L27 17" /></svg>
      <div style={abs(1864, 1054, { width: 26, height: 22, boxSizing: "border-box", border: "2px solid #2a2c30", borderRadius: 6 })} />
      <Txt x={1360} y={1029} s={38.4} color="rgba(120,120,120,0.55)" font="'Open Sans', sans-serif">Activate Windows</Txt>
      <Txt x={1360} y={1076} s={27.7} color="rgba(120,120,120,0.55)" font="'Open Sans', sans-serif">Go to Settings to activate Windows.</Txt>
    </>
  );
}

export default function App() {
  useEffect(() => { document.body.style.margin = "0"; document.body.style.background = "#fff"; }, []);
  return (
    <div style={{ position: "absolute", left: 0, top: 0, width: 1920, height: 1103, overflow: "hidden", background: "#fff", fontFamily: FONT, filter: "blur(0.45px)" }}>
      <PriceChart />
      <Chrome />
    </div>
  );
}
